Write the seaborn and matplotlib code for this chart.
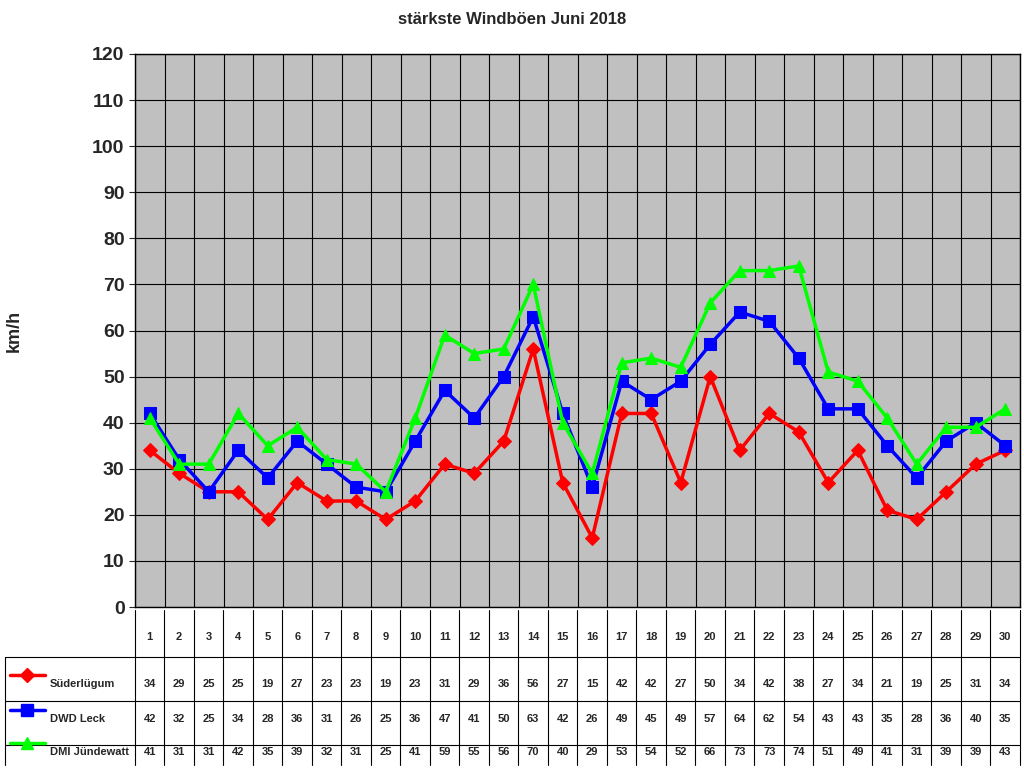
import numpy as np
import pandas as pd
import matplotlib
matplotlib.use("Agg")
import matplotlib.pyplot as plt
import seaborn as sns

days = list(range(1, 31))
suederluegum = [34, 29, 25, 25, 19, 27, 23, 23, 19, 23, 31, 29, 36, 56, 27, 15, 42, 42, 27, 50,
                34, 42, 38, 27, 34, 21, 19, 25, 31, 34]
dwd_leck = [42, 32, 25, 34, 28, 36, 31, 26, 25, 36, 47, 41, 50, 63, 42, 26, 49, 45, 49, 57,
            64, 62, 54, 43, 43, 35, 28, 36, 40, 35]
dmi_juendewatt = [41, 31, 31, 42, 35, 39, 32, 31, 25, 41, 59, 55, 56, 70, 40, 29, 53, 54, 52, 66,
                  73, 73, 74, 51, 49, 41, 31, 39, 39, 43]

series = [
    ("Süderlügum", suederluegum, "#FF0000", "D", 7),
    ("DWD Leck", dwd_leck, "#0000FF", "s", 8),
    ("DMI Jündewatt", dmi_juendewatt, "#00FF00", "^", 9),
]

sns.set_style("white")
plt.rcParams['font.family'] = ['Liberation Sans', 'DejaVu Sans']

fig = plt.figure(figsize=(10.24, 7.68), dpi=100)
ax = fig.add_axes([135 / 1024, 1 - 607 / 768, 885 / 1024, 553 / 768])
ax.set_facecolor("#C0C0C0")

x = np.arange(len(days))
for name, vals, col, mk, ms in series:
    df = pd.DataFrame({"x": x, "y": vals})
    sns.lineplot(data=df, x="x", y="y", ax=ax, color=col, marker=mk, markersize=ms,
                 markeredgecolor=col, linewidth=2.5, legend=False)

ax.set_xlim(-0.5, len(days) - 0.5)
ax.set_ylim(0, 120)
ax.set_yticks(range(0, 121, 10))
ax.set_xticks(np.arange(len(days) + 1) - 0.5, minor=True)
ax.set_xticks([])
ax.grid(True, which="minor", axis="x", color="black", linewidth=0.8)
ax.grid(True, which="major", axis="y", color="black", linewidth=0.8)
ax.set_axisbelow(True)
ax.tick_params(axis="y", labelsize=14, length=4, left=True)
for t in ax.get_yticklabels():
    t.set_fontweight("bold")
ax.set_xlabel("")
ax.set_ylabel("km/h", fontsize=13, fontweight="bold", labelpad=50)
for s in ax.spines.values():
    s.set_color("black")
    s.set_linewidth(1)
fig.text(0.5, 1 - 20 / 768, "stärkste Windböen Juni 2018", ha="center", va="center",
         fontsize=12, fontweight="bold")

# data table below the plot, in pixel coordinates
tb = fig.add_axes([5 / 1024, 3 / 768, 1015 / 1024, 604 / 768 - 3 / 768 - 446 / 768])
tb.set_xlim(5, 1020)
tb.set_ylim(765, 607)
tb.set_autoscale_on(False)
tb.axis("off")
colw = 885 / len(days)
for i in range(len(days) + 1):
    xx = 135 + i * colw
    tb.plot([xx, xx], [607, 765], color="black", linewidth=0.8, clip_on=False)
tb.plot([5, 5], [655, 765], color="black", linewidth=0.8, clip_on=False)
for yy in [655, 700, 745]:
    tb.plot([5, 1020], [yy, yy], color="black", linewidth=0.8, clip_on=False)
for i, d in enumerate(days):
    tb.text(135 + (i + 0.5) * colw, 635, str(d), ha="center", va="center",
            fontsize=8, fontweight="bold")
row_y = [682, 718, 752]
for (name, vals, col, mk, ms), ry in zip(series, row_y):
    tb.plot([10, 45], [ry - 9, ry - 9], color=col, linewidth=2.5, clip_on=False)
    tb.plot([27.5], [ry - 9], color=col, marker=mk, markersize=ms, clip_on=False)
    tb.text(50, ry, name, ha="left", va="center", fontsize=8, fontweight="bold")
    for i, v in enumerate(vals):
        tb.text(135 + (i + 0.5) * colw, ry, str(v), ha="center", va="center",
                fontsize=8, fontweight="bold")

fig.savefig("out.png", dpi=100)
